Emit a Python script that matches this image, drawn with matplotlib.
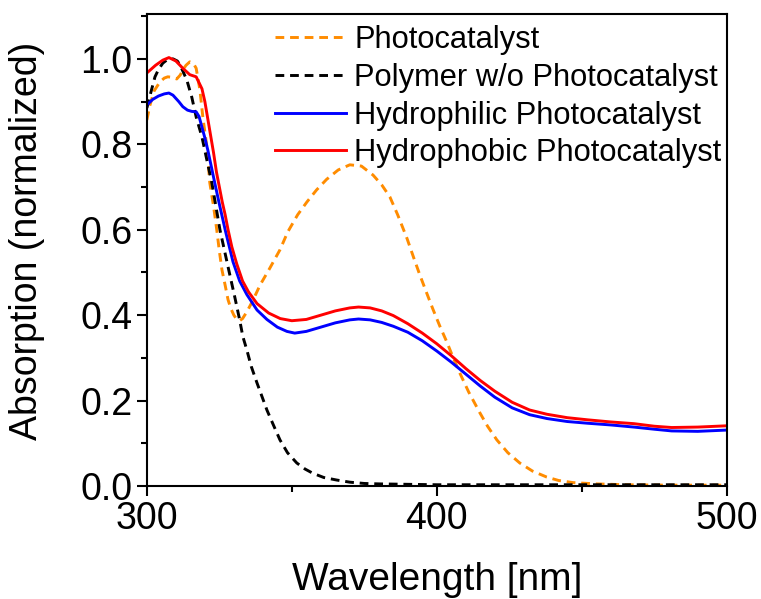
import numpy as np
import matplotlib.pyplot as plt
from matplotlib.ticker import MultipleLocator

plt.rcParams['font.family'] = ['Liberation Sans', 'DejaVu Sans']

# Photocatalyst (orange dashed)
wl_pc = [300, 301, 302.5, 304.5, 306, 307.2, 308.5, 310.3, 311.5, 312.4, 313.5, 314.8, 316, 317,
         318.3, 319.3, 320.7, 321.7, 323, 324.1, 325, 325.9, 327, 328, 329, 330, 331, 332, 333,
         334.5, 336.6, 339, 342.4, 345.9, 348.6, 352, 355.2, 358.5, 362, 366, 370, 374, 378, 381,
         383.8, 386.5, 389.7, 392, 394.1, 396.5, 398.6, 401, 403.4, 405.5, 407.9, 411, 414.8,
         417.5, 420.7, 424.5, 428.6, 433, 437.9, 442, 447, 455, 465, 480, 500]
abs_pc = [0.857, 0.89, 0.925, 0.946, 0.955, 0.958, 0.957, 0.953, 0.962, 0.974, 0.985, 0.993, 0.99, 0.978,
          0.927, 0.864, 0.794, 0.71, 0.655, 0.6, 0.55, 0.506, 0.47, 0.436, 0.415, 0.4, 0.39, 0.387, 0.392,
          0.408, 0.435, 0.47, 0.51, 0.553, 0.595, 0.635, 0.665, 0.693, 0.718, 0.74, 0.752, 0.749, 0.728, 0.705,
          0.677, 0.635, 0.58, 0.535, 0.495, 0.452, 0.415, 0.375, 0.338, 0.303, 0.265, 0.22, 0.172,
          0.14, 0.108, 0.078, 0.054, 0.035, 0.021, 0.013, 0.008, 0.005, 0.003, 0.002, 0.002]

# Polymer w/o Photocatalyst (black dashed)
wl_poly = [300, 301.5, 302.8, 304, 305.5, 307, 309, 310.5, 311.4, 312.5, 313.8, 315.5, 317, 319, 320.7,
           322.4, 325.2, 328, 330.3, 332, 333.1, 334.5, 336, 338, 340, 341.4, 343.5, 345.9, 348.5,
           351.7, 354.5, 357.2, 361, 365.5, 370, 375, 380, 390, 400, 420, 450, 480, 500]
abs_poly = [0.885, 0.925, 0.958, 0.975, 0.99, 0.998, 1.0, 0.995, 0.986, 0.97, 0.95, 0.91, 0.864, 0.817, 0.763,
            0.71, 0.6, 0.513, 0.443, 0.389, 0.35, 0.318, 0.28, 0.241, 0.204, 0.178, 0.145, 0.108, 0.078,
            0.054, 0.04, 0.03, 0.02, 0.014, 0.009, 0.006, 0.005, 0.004, 0.003, 0.003, 0.003, 0.003, 0.003]

# Hydrophilic Photocatalyst (blue)
wl_phil = [300, 302, 304, 306, 307.6, 309, 311, 312.4, 314, 315.5, 317, 318, 319, 320, 321, 322, 323.4,
           325, 327, 329.7, 332, 334.5, 338, 341.4, 345, 348.3, 351, 355, 360, 365, 370, 373, 377, 381,
           385, 390, 395, 400, 405, 410, 415, 420, 426, 432, 438, 445, 452, 460, 468, 475, 481, 490, 500]
abs_phil = [0.892, 0.905, 0.913, 0.918, 0.92, 0.915, 0.9, 0.888, 0.88, 0.877, 0.876, 0.865, 0.84, 0.815, 0.787,
            0.755, 0.71, 0.66, 0.6, 0.525, 0.48, 0.448, 0.412, 0.39, 0.372, 0.362, 0.358, 0.362, 0.372,
            0.382, 0.389, 0.391, 0.389, 0.383, 0.374, 0.36, 0.34, 0.316, 0.29, 0.262, 0.234, 0.208, 0.183,
            0.167, 0.158, 0.151, 0.147, 0.143, 0.138, 0.133, 0.129, 0.128, 0.131]

# Hydrophobic Photocatalyst (red)
wl_phob = [300, 303, 305.5, 307.6, 310, 312.4, 314.8, 317, 319, 320, 321, 322, 323, 324, 325, 326, 327,
           328, 329.3, 331, 333, 335, 338, 342, 346, 350, 355, 360, 365, 370, 373, 377, 381, 385, 390,
           395, 400, 405, 410, 415, 420, 426, 432, 438, 445, 452, 460, 468, 475, 481, 490, 500]
abs_phob = [0.967, 0.985, 0.997, 1.003, 0.995, 0.978, 0.963, 0.958, 0.93, 0.9, 0.86, 0.82, 0.78, 0.735, 0.70,
            0.665, 0.635, 0.6, 0.56, 0.52, 0.48, 0.455, 0.427, 0.405, 0.392, 0.387, 0.39, 0.40, 0.41, 0.417,
            0.419, 0.417, 0.41, 0.399, 0.38, 0.358, 0.333, 0.305, 0.275, 0.247, 0.222, 0.196, 0.178,
            0.168, 0.16, 0.155, 0.15, 0.146, 0.14, 0.137, 0.138, 0.141]

fig = plt.figure(figsize=(7.61, 5.99), dpi=100)
ax = fig.add_axes([0.193, 0.1886, 0.762, 0.788])

ax.plot(wl_pc, abs_pc, color='#FF8C00', lw=2.1, ls=(0, (3, 2)), label='Photocatalyst')
ax.plot(wl_poly, abs_poly, color='black', lw=2.1, ls=(0, (3, 2)), label='Polymer w/o Photocatalyst')
ax.plot(wl_phil, abs_phil, color='#0000FF', lw=2.1, label='Hydrophilic Photocatalyst')
ax.plot(wl_phob, abs_phob, color='#FF0000', lw=2.1, label='Hydrophobic Photocatalyst')

ax.set_xlim(300, 500)
ax.set_ylim(0, 1.105)
ax.xaxis.set_major_locator(MultipleLocator(100))
ax.xaxis.set_minor_locator(MultipleLocator(50))
ax.yaxis.set_major_locator(MultipleLocator(0.2))
ax.yaxis.set_minor_locator(MultipleLocator(0.1))
ax.yaxis.set_major_formatter(plt.FormatStrFormatter('%.1f'))
ax.tick_params(which='major', length=7, width=1.5, labelsize=27, direction='out')
ax.tick_params(which='minor', length=4, width=1.5, direction='out')
for s in ax.spines.values():
    s.set_linewidth(1.5)

ax.set_xlabel('Wavelength [nm]', fontsize=28, labelpad=18)
ax.set_ylabel('Absorption (normalized)', fontsize=27)
ax.yaxis.set_label_coords(-0.175, 0.52)

ax.legend(loc='upper left', bbox_to_anchor=(0.362, 0.958), bbox_transform=fig.transFigure,
          frameon=False, fontsize=22.2, handlelength=2.3, handletextpad=0.25,
          labelspacing=0.25, borderaxespad=0, borderpad=0)

fig.savefig('out.png', dpi=100)
